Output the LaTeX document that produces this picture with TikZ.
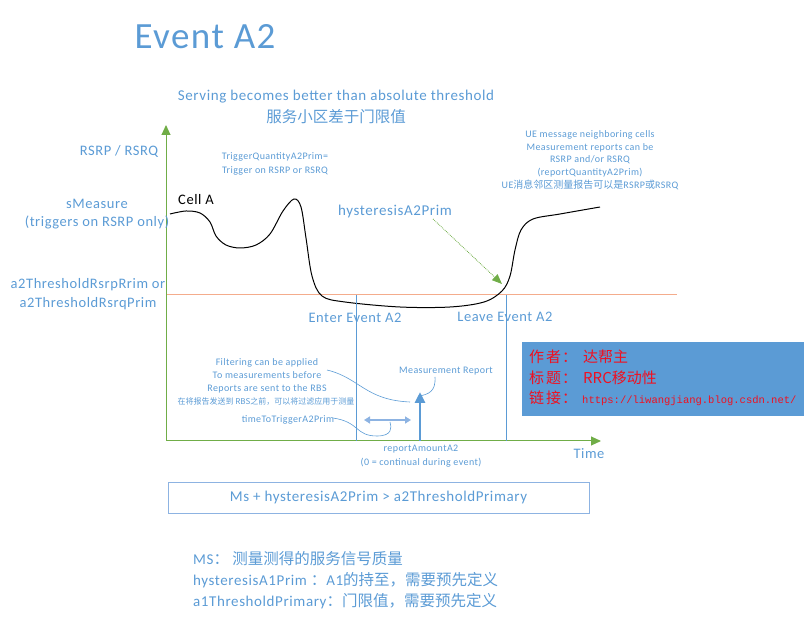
\documentclass[tikz,border=0pt]{standalone}
\usepackage{fontspec}
\setmainfont{Carlito}[LetterSpace=4]
\newfontfamily\cjk{Noto Sans CJK SC}
\newfontfamily\monofnt{Liberation Mono}
\usetikzlibrary{arrows.meta}
\definecolor{tblue}{RGB}{91,155,213}
\definecolor{agreen}{RGB}{112,173,71}
\definecolor{thrcol}{RGB}{244,172,140}
\definecolor{lblue}{RGB}{141,179,226}
\definecolor{boxblue}{RGB}{91,155,213}
\definecolor{rtext}{RGB}{240,16,32}
\tikzset{
  lbl/.style={text=tblue, inner sep=0pt, align=center},
  small/.style={lbl, font=\fontsize{10}{13.3}\selectfont},
  mid/.style={lbl, font=\fontsize{14.5}{18.5}\selectfont},
  axis/.style={agreen, line width=1pt, -{Triangle[width=9pt,length=10pt]}},
  vline/.style={tblue, line width=0.8pt},
  callout/.style={tblue, line width=0.6pt},
  redtxt/.style={anchor=west, inner sep=0pt, text=rtext, font=\fontsize{15}{17}\cjk},
}
\begin{document}
\begin{tikzpicture}[x=1pt,y=-1pt]
\useasboundingbox (0,0) rectangle (807,620);
% title
\node[lbl, font=\fontsize{37}{42}\selectfont] (title) at (205,37) {Event A2};
\node[lbl, font=\fontsize{15}{18}\selectfont] (serv) at (336,97) {Serving becomes better than absolute threshold};
\node[lbl, font=\fontsize{15.5}{18}\cjk] (servcn) at (336,117) {服务小区差于门限值};
% threshold line
\coordinate (thleft) at (166,295);
\coordinate (thright) at (677,295);
\draw[draw=thrcol, line width=1pt] (thleft) -- (thright);
% axes
\coordinate (o) at (166,441);
\coordinate (ytop) at (166,125);
\coordinate (xend) at (601,441);
\draw[axis] (o) -- (ytop);
\draw[axis] (o) -- (xend);
% left labels
\node[mid] (rsrp) at (119,151) {RSRP / RSRQ};
\node[mid] (smeas) at (97,214) {sMeasure\\(triggers on RSRP only)};
\node[mid] (a2thr) at (88,294) {a2ThresholdRsrpRrim  or\\a2ThresholdRsrqPrim};
% trigger quantity
\node[small] (tq) at (275,164) {TriggerQuantityA2Prim=\\Trigger on RSRP or RSRQ};
% cell A
\node[inner sep=0pt, font=\fontsize{14.5}{16}\selectfont] (cella) at (196,200) {Cell A};
% curve
\draw[black, line width=1pt] plot[smooth, tension=0.55] coordinates {
 (170,214) (186,211) (200,213) (210,222) (216,236) (226,245) (240,248) (256,245) (270,234) (283,211) (294,199) (301,207) (306,238) (312,276) (322,296) (345,302) (400,307) (450,307) (484,302) (502,291) (510,276) (515,250) (521,230) (533,219) (560,214) (600,207)};
\coordinate (hystend) at (502,284);
% hysteresis
\node[lbl, font=\fontsize{15}{17}\selectfont] (hyst) at (395,212) {hysteresisA2Prim};
\draw[agreen, line width=0.8pt, densely dotted, -{Triangle[width=8pt,length=10pt]}] (433,219) -- (hystend);
% right top text
\node[lbl, font=\fontsize{10}{12.7}\selectfont] (uemsg) at (590,160) {UE message neighboring cells\\Measurement reports can be\\RSRP and/or RSRQ\\(reportQuantityA2Prim)\\UE{\cjk 消息邻区测量报告可以是}RSRP{\cjk 或}RSRQ};
% enter / leave
\coordinate (e1) at (356,295); \coordinate (e2) at (356,441);
\coordinate (l1) at (506,295); \coordinate (l2) at (506,441);
\draw[vline] (e1) -- (e2);
\draw[vline] (l1) -- (l2);
\node[mid] (enter) at (355,318) {Enter Event A2};
\node[mid] (leave) at (505,317) {Leave Event A2};
% author box
\node[fill=boxblue, minimum width=282pt, minimum height=74pt, inner sep=0pt] (abox) at (663,379) {};
\node[redtxt] (a1) at (529,357) {作\hspace{2pt}者\hspace{1pt}：\hspace{6pt}达帮主};
\node[redtxt] (a2) at (529,378) {标\hspace{2pt}题\hspace{1pt}：\hspace{6pt}RRC移动性};
\node[redtxt] (a3) at (529,398) {链\hspace{2pt}接\hspace{1pt}：\hspace{5pt}{\monofnt\fontsize{10.5}{12}\selectfont https://liwangjiang.blog.csdn.net/}};
% filtering
\node[small] (filt) at (267,376) {Filtering can be applied\\To measurements before\\Reports are sent to the RBS};
\node[lbl, font=\fontsize{8}{9}\cjk] (filtcn) at (266,402) {在将报告发送到 RBS之前，可以将过滤应用于测量};
\coordinate (filtend) at (410,402);
\draw[callout] (327,370) .. controls (360,378) and (365,400) .. (filtend);
% report arrow
\coordinate (rep0) at (420,441);
\coordinate (rep1) at (420,392);
\draw[tblue, line width=2.8pt, -{Triangle[width=10pt,length=11pt]}] (rep0) -- (rep1);
\node[small] (mrep) at (446,371) {Measurement Report};
\draw[callout] (435,377) .. controls (436,392) and (428,394) .. (420,396);
% time to trigger
\coordinate (tt1) at (364,420); \coordinate (tt2) at (411,420);
\draw[lblue, line width=1.6pt, {Triangle[width=7pt,length=6pt]}-{Triangle[width=7pt,length=6pt]}] (tt1) -- (tt2);
\node[small] (ttt) at (288,420) {timeToTriggerA2Prim};
\draw[callout] (333,418) .. controls (360,422) and (355,436) .. (377,436) .. controls (392,436) and (392,428) .. (390,422);
% report amount
\node[small] (ramt) at (421,456) {reportAmountA2\\(0 = continual during event)};
% time
\node[mid] (time) at (589,454) {Time};
% formula box
\node[draw=lblue, line width=0.8pt, minimum width=421pt, minimum height=31pt, inner sep=0pt, text=tblue, font=\fontsize{15}{17}\selectfont] (form) at (378.5,497.5) {Ms + hysteresisA2Prim  > a2ThresholdPrimary};
% bottom legend
\node[lbl, anchor=west, font=\fontsize{15}{17}\selectfont] (b1) at (193,559) {MS{\cjk\fontsize{15.5}{17}\selectfont ：  测量测得的服务信号质量}};
\node[lbl, anchor=west, font=\fontsize{15}{17}\selectfont] (b2) at (193,580) {hysteresisA1Prim {\cjk\fontsize{15.5}{17}\selectfont ：}A1{\cjk\fontsize{15.5}{17}\selectfont 的持至，需要预先定义}};
\node[lbl, anchor=west, font=\fontsize{15}{17}\selectfont] (b3) at (193,601) {a1ThresholdPrimary{\cjk\fontsize{15.5}{17}\selectfont ：门限值，需要预先定义}};
\end{tikzpicture}
\end{document}
